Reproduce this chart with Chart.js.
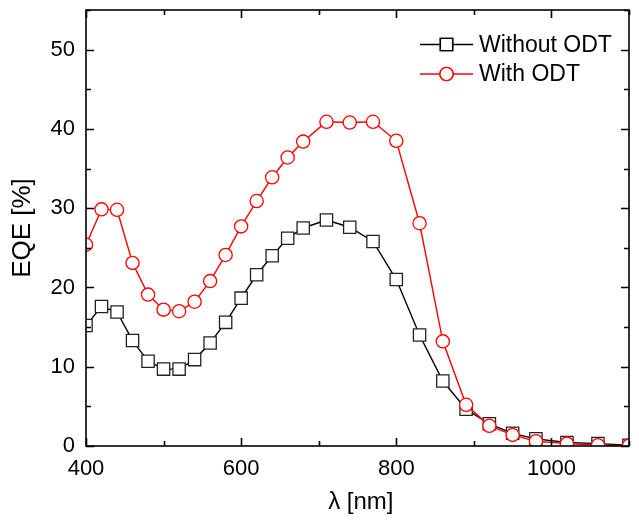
<!DOCTYPE html>
<html>
<head>
<meta charset="utf-8">
<script src="https://cdn.jsdelivr.net/npm/chart.js@4/dist/chart.umd.min.js"></script>
<style>
  body { margin: 0; background: #fff; }
  canvas { display: block; }
</style>
</head>
<body>
<canvas id="eqeChart" width="639" height="521"></canvas>
<script>
/* Wellenlängen in nm */
const wavelengths = [400, 420, 440, 460, 480, 500, 520, 540, 560, 580, 600, 620, 640, 660, 680,
                     710, 740, 770, 800, 830, 860, 890, 920, 950, 980, 1020, 1060, 1100];

/* EQE-Werte in % */
const eqeWithoutODT = [15.2, 17.6, 16.9, 13.3, 10.7, 9.7, 9.7, 10.9, 13.0, 15.6, 18.65, 21.6, 24.0, 26.2, 27.5,
                       28.5, 27.6, 25.8, 21.0, 14.0, 8.2, 4.65, 2.8, 1.6, 0.9, 0.45, 0.3, 0.1];
const eqeWithODT = [25.4, 29.85, 29.8, 23.1, 19.1, 17.2, 17.0, 18.2, 20.8, 24.1, 27.7, 30.9, 33.9, 36.4, 38.4,
                    40.9, 40.8, 40.9, 38.5, 28.1, 13.2, 5.2, 2.55, 1.4, 0.6, 0.3, 0.1, 0.05];

const seriesLabels = ['Without ODT', 'With ODT'];

/* Achsenbeschriftungen und Teilstriche */
const xTickLabels = [400, 600, 800, 1000];
const xMinorTicks = [500, 700, 900, 1100];
const yTickLabels = [0, 10, 20, 30, 40, 50];
const yMinorTicks = [5, 15, 25, 35, 45, 55];

const fontFamily = '"Liberation Sans", Arial, sans-serif';

function toPoints(xs, ys) {
    return xs.map((x, i) => ({ x: x, y: ys[i] }));
}

/* Rahmen + nach innen zeigende Ticks auf allen vier Seiten */
const frameTicks = {
    id: 'frameTicks',
    afterDraw(chart) {
        const ctx = chart.ctx;
        const a = chart.chartArea;
        const xs = chart.scales.x, ys = chart.scales.y;
        ctx.save();
        ctx.strokeStyle = '#000';
        ctx.lineWidth = 1.6;
        ctx.strokeRect(a.left, a.top, a.right - a.left, a.bottom - a.top);
        ctx.beginPath();
        const tickX = (v, len) => {
            const p = Math.round(xs.getPixelForValue(v)) + 0.5;
            ctx.moveTo(p, a.bottom); ctx.lineTo(p, a.bottom - len);
            ctx.moveTo(p, a.top); ctx.lineTo(p, a.top + len);
        };
        const tickY = (v, len) => {
            const p = Math.round(ys.getPixelForValue(v)) + 0.5;
            ctx.moveTo(a.left, p); ctx.lineTo(a.left + len, p);
            ctx.moveTo(a.right, p); ctx.lineTo(a.right - len, p);
        };
        xTickLabels.forEach(v => tickX(v, 8));
        xMinorTicks.forEach(v => tickX(v, 5));
        yTickLabels.forEach(v => tickY(v, 8));
        yMinorTicks.forEach(v => tickY(v, 5));
        ctx.stroke();
        ctx.restore();
    }
};

/* Legende mit Linie und Marker */
const lineLegend = {
    id: 'lineLegend',
    afterDraw(chart) {
        const ctx = chart.ctx;
        const sets = [chart.data.datasets[1], chart.data.datasets[0]];
        ctx.save();
        sets.forEach((ds, i) => {
            const y = 44.5 + i * 29.5;
            ctx.strokeStyle = ds.borderColor;
            ctx.lineWidth = 1.4;
            ctx.beginPath();
            ctx.moveTo(420, y); ctx.lineTo(473, y);
            ctx.stroke();
            Chart.helpers.drawPoint(ctx, {
                pointStyle: ds.pointStyle,
                radius: ds.pointRadius,
                borderWidth: 1.4
            }, 446.5, y);
            ctx.fillStyle = '#fff';
            ctx.fill();
            ctx.stroke();
            ctx.fillStyle = '#000';
            ctx.font = '23px ' + fontFamily;
            ctx.textBaseline = 'middle';
            ctx.fillText(ds.label, 479, y + 1);
        });
        ctx.restore();
    }
};

const ctx = document.getElementById('eqeChart').getContext('2d');
new Chart(ctx, {
    type: 'line',
    data: {
        datasets: [
            {
                label: seriesLabels[1],
                data: toPoints(wavelengths, eqeWithODT),
                borderColor: '#ff0000',
                borderWidth: 1.4,
                pointStyle: 'circle',
                pointRadius: 6.6,
                pointBorderWidth: 1.3,
                pointBackgroundColor: '#fff',
                pointBorderColor: '#ff0000',
                tension: 0,
                order: 1
            },
            {
                label: seriesLabels[0],
                data: toPoints(wavelengths, eqeWithoutODT),
                borderColor: '#000',
                borderWidth: 1.4,
                pointStyle: 'rect',
                pointRadius: 8.7,
                pointBorderWidth: 1.3,
                pointBackgroundColor: '#fff',
                pointBorderColor: '#222',
                tension: 0,
                order: 2
            }
        ]
    },
    options: {
        responsive: false,
        animation: false,
        layout: { padding: { top: 8, right: 2, left: 0, bottom: 0 } },
        plugins: {
            legend: { display: false },
            tooltip: { enabled: false }
        },
        scales: {
            x: {
                type: 'linear',
                min: 400,
                max: 1100,
                afterBuildTicks: (axis) => { axis.ticks = xTickLabels.map(v => ({ value: v })); },
                afterFit: (axis) => {
                    axis.height = 75;
                    axis.paddingLeft = 0; axis.paddingRight = 0;
                },
                grid: { display: false, drawTicks: false },
                border: { display: false },
                ticks: {
                    color: '#000', padding: 10, maxRotation: 0,
                    font: { family: fontFamily, size: 22 },
                    callback: (v) => String(v)
                },
                title: {
                    display: true,
                    text: ' λ [nm]',
                    color: '#000',
                    padding: { top: 0, bottom: 4 },
                    font: { family: fontFamily, size: 24 }
                }
            },
            y: {
                min: 0,
                max: 55,
                afterBuildTicks: (axis) => { axis.ticks = yTickLabels.map(v => ({ value: v })); },
                afterFit: (axis) => {
                    axis.width = 86;
                    axis.paddingTop = 0; axis.paddingBottom = 0;
                },
                grid: { display: false, drawTicks: false },
                border: { display: false },
                ticks: {
                    color: '#000', padding: 11,
                    font: { family: fontFamily, size: 22 },
                    callback: (v) => String(v)
                },
                title: {
                    display: true,
                    text: 'EQE [%]',
                    color: '#000',
                    padding: { top: 7, bottom: 8 },
                    font: { family: fontFamily, size: 26 }
                }
            }
        }
    },
    plugins: [frameTicks, lineLegend]
});
</script>
</body>
</html>
